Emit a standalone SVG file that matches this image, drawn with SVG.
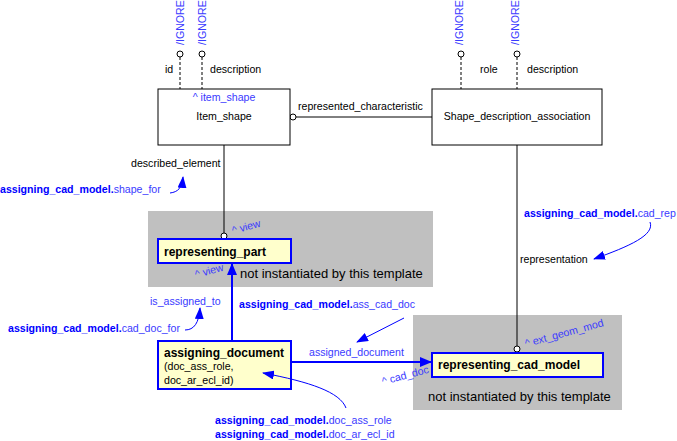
<svg xmlns="http://www.w3.org/2000/svg" width="677" height="441" viewBox="0 0 677 441">
<defs>
<style>
text{font-family:"Liberation Sans",Arial,sans-serif;font-size:10.6px;fill:#000}
.b{fill:#0000ff}
.lb{fill:#3a3aff}
.bold{font-weight:bold}
.ent{fill:#fff;stroke:#000;stroke-width:1}
.tpl{fill:#ffffcc;stroke:#0000ff;stroke-width:2}
.grey{fill:#c0c0c0}
.ln{stroke:#000;stroke-width:1;fill:none}
.dash{stroke:#000;stroke-width:1;stroke-dasharray:3,2;fill:none}
.circ{fill:#fff;stroke:#000;stroke-width:1}
.bl{stroke:#0000ff;stroke-width:2;fill:none}
.bt{stroke:#0000ff;stroke-width:1;fill:none}
.big{font-size:13px}
.t12{font-size:12px}
</style>
<marker id="ah" viewBox="0 0 12 10" refX="11" refY="5" markerWidth="12" markerHeight="10" orient="auto" markerUnits="userSpaceOnUse"><path d="M0,0 L12,5 L0,10 z" fill="#0000ff"/></marker>
<marker id="ah2" viewBox="0 0 12 9" refX="11" refY="4.5" markerWidth="12" markerHeight="9" orient="auto" markerUnits="userSpaceOnUse"><path d="M0,0 L12,4.5 L0,9 z" fill="#0000ff"/></marker>
</defs>
<rect width="677" height="441" fill="#fff"/>
<g id="grey1"><rect class="grey" x="148" y="211" width="285" height="76"/><text class="big" x="240" y="278">not instantiated by this template</text></g>
<g id="grey2"><rect class="grey" x="413" y="315" width="209" height="95"/><text class="big" x="428" y="401">not instantiated by this template</text></g>
<g id="connectors">
<line class="dash" x1="180" y1="57" x2="180" y2="89"/>
<line class="dash" x1="202" y1="57" x2="202" y2="89"/>
<line class="dash" x1="461" y1="57" x2="461" y2="89"/>
<line class="dash" x1="517" y1="57" x2="517" y2="89"/>
<circle class="circ" cx="180" cy="54" r="3"/>
<circle class="circ" cx="202" cy="54" r="3"/>
<circle class="circ" cx="461" cy="54" r="3"/>
<circle class="circ" cx="517" cy="54" r="3"/>
<text class="lb" transform="translate(184,45) rotate(-90)">/IGNORE</text>
<text class="lb" transform="translate(206,45) rotate(-90)">/IGNORE</text>
<text class="lb" transform="translate(463,45) rotate(-90)">/IGNORE</text>
<text class="lb" transform="translate(519,45) rotate(-90)">/IGNORE</text>
<text x="165" y="73">id</text>
<text x="210" y="73">description</text>
<text x="480" y="73">role</text>
<text x="527" y="73">description</text>
<line class="ln" x1="296" y1="117" x2="432" y2="117" stroke="#555"/>
<circle class="circ" cx="293" cy="117" r="3"/>
<text x="298" y="110">represented_characteristic</text>
<line class="ln" x1="224" y1="145" x2="224" y2="233"/>
<circle class="circ" cx="224" cy="236" r="3"/>
<text x="131" y="167">described_element</text>
<line class="ln" x1="517" y1="145" x2="517" y2="346"/>
<circle class="circ" cx="517" cy="349" r="3"/>
<text x="520" y="263">representation</text>
<line class="bl" x1="232" y1="341" x2="232" y2="264" marker-end="url(#ah)"/>
<line class="bl" x1="291" y1="362" x2="431" y2="362" marker-end="url(#ah)"/>
<text class="lb" x="309" y="356">assigned_document</text>
<text class="lb" transform="translate(233,234) rotate(-15)">^ view</text>
<text class="lb" transform="translate(196,278) rotate(-15)">^ view</text>
<text class="lb" transform="translate(526,347) rotate(-15)">^ ext_geom_mod</text>
<text class="lb" transform="translate(383,385) rotate(-15)">^ cad_doc</text>
</g>
<g id="Item_shape"><rect class="ent" x="158" y="89" width="132" height="56"/><text class="lb" x="224" y="101" text-anchor="middle">^ item_shape</text><text x="224" y="120" text-anchor="middle">Item_shape</text></g>
<g id="Shape_description_association"><rect class="ent" x="432" y="89" width="170" height="56"/><text x="517" y="120" text-anchor="middle">Shape_description_association</text></g>
<g id="representing_part"><rect class="tpl" x="158" y="239" width="133" height="24"/><text class="bold t12" x="164" y="256">representing_part</text></g>
<g id="representing_cad_model"><rect class="tpl" x="432" y="353" width="171" height="24"/><text class="bold t12" x="438" y="369">representing_cad_model</text></g>
<g id="assigning_document"><rect class="tpl" x="158" y="341" width="133" height="48"/><text class="bold t12" x="164" y="357">assigning_document</text><text x="164" y="370">(doc_ass_role,</text><text x="164" y="384">doc_ar_ecl_id)</text></g>
<g id="annotations">
<text x="0" y="193"><tspan class="b bold">assigning_cad_model.</tspan><tspan class="lb">shape_for</tspan></text>
<path class="bt" d="M170,193 C178,192 182,188 183,177" marker-end="url(#ah2)"/>
<text x="524" y="217"><tspan class="b bold">assigning_cad_model.</tspan><tspan class="lb">cad_rep</tspan></text>
<path class="bt" d="M650,222 C655,235 630,246 594,259" marker-end="url(#ah2)"/>
<text class="lb" x="150" y="305">is_assigned_to</text>
<text x="8" y="332"><tspan class="b bold">assigning_cad_model.</tspan><tspan class="lb">cad_doc_for</tspan></text>
<path class="bt" d="M185,330 C194,330 199,323 200,308" marker-end="url(#ah2)"/>
<text x="239" y="308"><tspan class="b bold">assigning_cad_model.</tspan><tspan class="lb">ass_cad_doc</tspan></text>
<path class="bt" d="M404,318 L357,342" marker-end="url(#ah2)"/>
<text x="215" y="424"><tspan class="b bold">assigning_cad_model.</tspan><tspan class="lb">doc_ass_role</tspan></text>
<text x="215" y="438"><tspan class="b bold">assigning_cad_model.</tspan><tspan class="lb">doc_ar_ecl_id</tspan></text>
<path class="bt" d="M346,408 C340,392 310,382 263,373" marker-end="url(#ah2)"/>
</g>
</svg>
